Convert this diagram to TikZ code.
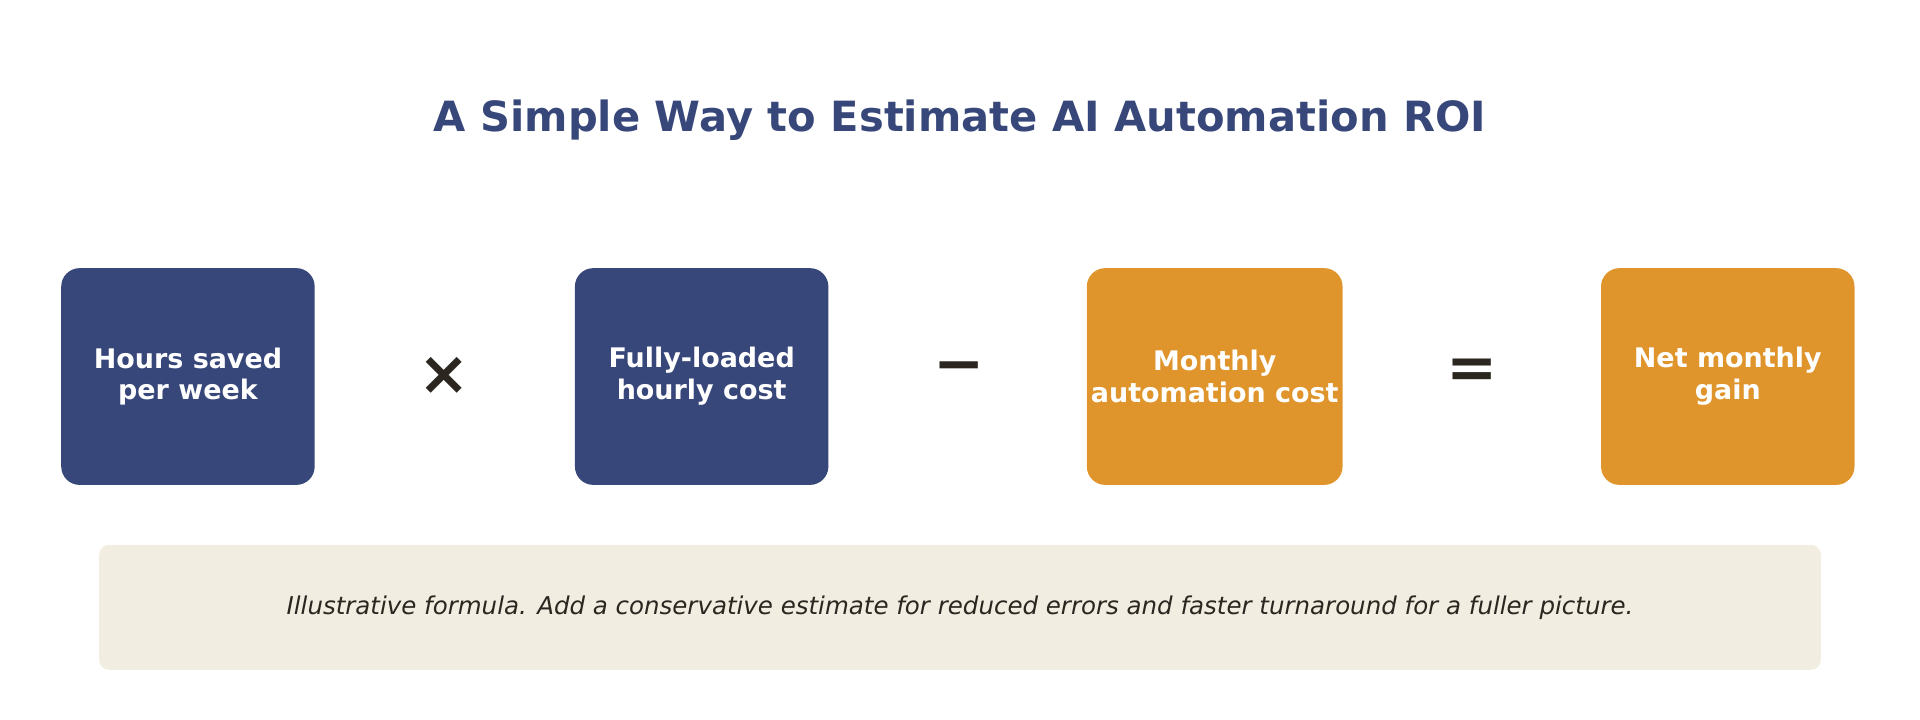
\documentclass[tikz,border=0pt]{standalone}
\usepackage{fontspec}
\setmainfont{DejaVu Sans}
\usetikzlibrary{positioning}
\definecolor{navy}{HTML}{37477A}
\definecolor{amber}{HTML}{E0952C}
\definecolor{ink}{HTML}{2B2620}
\definecolor{paper}{HTML}{F1EDE1}
\tikzset{
  term/.style={rounded corners=15pt, minimum width=207pt, minimum height=177pt,
    align=center, text=white, font=\fontsize{22}{26}\selectfont\bfseries},
  op/.style={text=ink, font=\fontsize{50}{50}\selectfont\bfseries}
}
\begin{document}
\begin{tikzpicture}[x=1pt,y=1pt]
        \useasboundingbox (0,0) rectangle (1568,588);
        % Title
        \node[text=navy, font=\fontsize{34}{40}\selectfont\bfseries] (title) at (784,490) {A Simple Way to Estimate AI Automation ROI};

        % Terms of the formula
        \node[term, fill=navy] (hours) at (153.5,280.5) {Hours saved\\per week};
        \node[term, fill=navy] (cost) at (573,280.5) {Fully-loaded\\hourly cost};
        \node[term, fill=amber] (auto) at (992,280.5) {Monthly\\automation cost};
        \node[term, fill=amber] (gain) at (1411,280.5) {Net monthly\\gain};

        % Operators
        \node[op] (times) at (363,281) {×};
        \node[op] (minus) at (783,283) {−};
        \node[op] (equals) at (1202,283) {=};

        % Note
        \node[fill=paper, rounded corners=8pt, minimum width=1406pt, minimum height=102pt,
          text=ink, font=\fontsize{20}{24}\selectfont\itshape] (note) at (784,92)
          {Illustrative formula. Add a conservative estimate for reduced errors and faster turnaround for a fuller picture.};
\end{tikzpicture}
\end{document}
